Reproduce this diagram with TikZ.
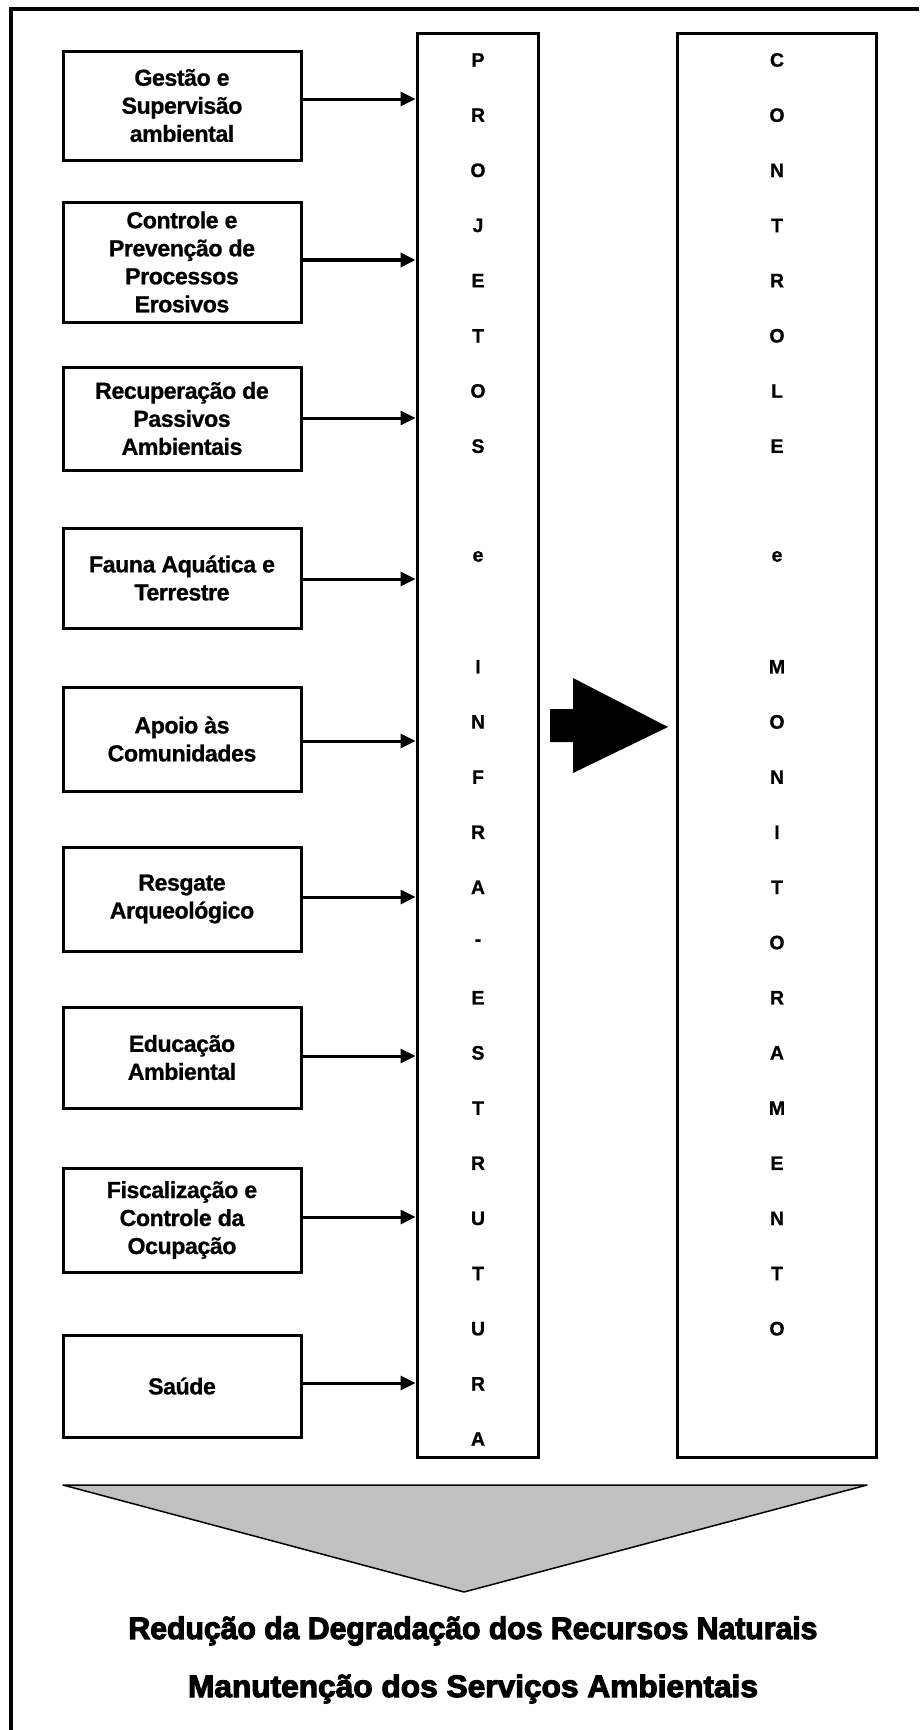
\documentclass[tikz,border=0pt]{standalone}
\usepackage{fontspec}
\setmainfont{Liberation Sans}
\newfontfamily\heavy{Liberation Sans}[FakeBold=3.5]
\newfontfamily\boxfont{Liberation Sans}[FakeBold=0.8, LetterSpace=-2]
\usetikzlibrary{arrows.meta}
\definecolor{trigray}{RGB}{192,192,192}
\tikzset{
  leftbox/.style={draw, line width=3pt, minimum width=238pt, inner sep=0pt, align=center,
    font=\fontsize{23.2}{28}\boxfont\bfseries},
  colbox/.style={draw, line width=3pt, inner sep=0pt},
  colletter/.style={inner sep=0pt, font=\fontsize{19.5}{22}\boxfont\bfseries},
  feed/.style={line width=3pt, -{Triangle[length=15pt,width=14pt]}},
  bottomtext/.style={inner sep=0pt, font=\fontsize{31}{34}\heavy\bfseries}
}
\begin{document}
\begin{tikzpicture}[x=1pt,y=-1pt]
\useasboundingbox (0,0) rectangle (919,1730);
% partial outer frame
\draw[line width=3.8pt] (10.8,1730) -- (10.8,8.7) -- (919,8.7);
% columns
\node[colbox, minimum width=121pt, minimum height=1424pt] (proj) at (477.5,745) {};
\node[colbox, minimum width=199pt, minimum height=1424pt] (ctrl) at (776.5,745) {};
\foreach \l [count=\i from 0] in {P,R,O,J,E,T,O,S,{},e,{},I,N,F,R,A,-,E,S,T,R,U,T,U,R,A}
  \node[colletter] (pl\i) at (478,{60+55.16*\i}) {\l};
\foreach \l [count=\i from 0] in {C,O,N,T,R,O,L,E,{},e,{},M,O,N,I,T,O,R,A,M,E,N,T,O}
  \node[colletter] (cl\i) at (777,{60+55.16*\i}) {\l};
% left boxes
\node[leftbox, minimum height=109pt] (b1) at (182,105.5) {Gestão e\\Supervisão\\ambiental};
\node[leftbox, minimum height=120pt] (b2) at (182,262) {Controle e\\Prevenção de\\Processos\\Erosivos};
\node[leftbox, minimum height=103pt] (b3) at (182,418.5) {Recuperação de\\Passivos\\Ambientais};
\node[leftbox, minimum height=100pt] (b4) at (182,578) {Fauna Aquática e\\Terrestre};
\node[leftbox, minimum height=104pt] (b5) at (182,739) {Apoio às\\Comunidades};
\node[leftbox, minimum height=104pt] (b6) at (182,899) {Resgate\\Arqueológico};
\node[leftbox, minimum height=101pt] (b7) at (182,1057.5) {Educação\\Ambiental};
\node[leftbox, minimum height=104pt] (b8) at (182,1220) {Fiscalização e\\Controle da\\Ocupação};
\node[leftbox, minimum height=102pt] (b9) at (182,1386) {Saúde};
% feeding arrows
\foreach \k/\s in {1/6.5,2/2,3/0.5,4/-1,5/-2,6/2,7/1.5,8/3,9/3}
  \coordinate (a\k) at ([yshift=\s pt]b\k.east);
\draw[feed, line width=3.6pt] (a2) -- (proj.west |- a2);
\foreach \k in {1,3,4,5,6,7,8,9}
  \draw[feed] (a\k) -- (proj.west |- a\k);
% block arrow between columns
\fill (550,709) -- (573,709) -- (573,678) -- (668,727) -- (573,773) -- (573,742) -- (550,742) -- cycle;
% gray funnel triangle
\draw[fill=trigray, line width=1.5pt, line join=round] (63,1485) -- (867,1485) -- (464,1592) -- cycle;
% bottom texts
\node[bottomtext] (t1) at (473,1631) {\resizebox{689pt}{\height}{Redução da Degradação dos Recursos Naturais}};
\node[bottomtext] (t2) at (473,1689) {\resizebox{570pt}{\height}{Manutenção dos Serviços Ambientais}};
\end{tikzpicture}
\end{document}
